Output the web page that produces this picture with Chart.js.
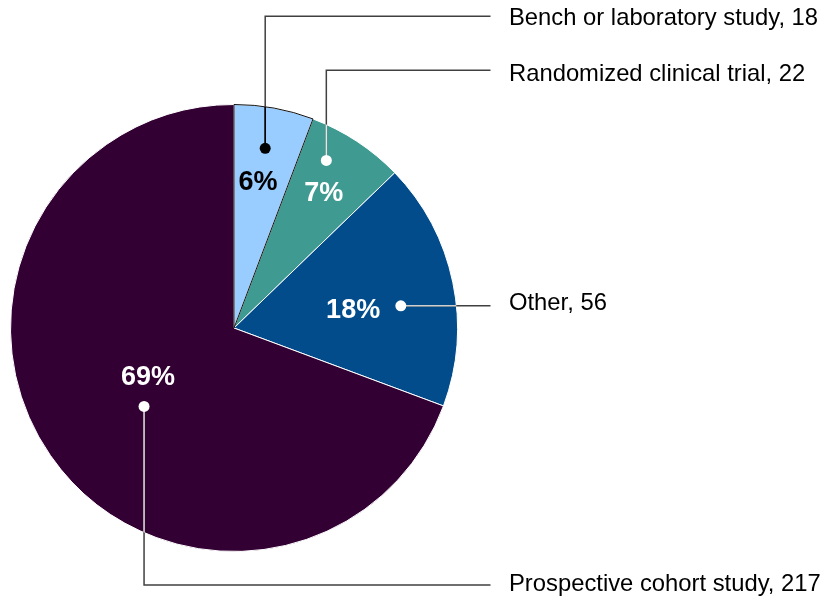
<!DOCTYPE html>
<html>
<head>
<meta charset="utf-8">
<script src="https://cdn.jsdelivr.net/npm/chart.js@4"></script>
<style>
  html, body { margin: 0; padding: 0; background: #fff; }
  #wrap { width: 830px; height: 597px; }
</style>
</head>
<body>
<div id="wrap"><canvas id="studyPie" width="830" height="597"></canvas></div>
<script>
// data
const categories = ['Bench or laboratory study', 'Randomized clinical trial', 'Other', 'Prospective cohort study'];
const counts = [18, 22, 56, 217];
const percentLabels = ['6%', '7%', '18%', '69%'];
const sliceColors = ['#99ccff', '#3f9b91', '#024c8c', '#330033'];

// label placement, relative to each slice (angle shift in degrees, fraction of radius)
const dotSpots = [[-0.5, 0.816], [-4.5, 0.856], [4.2, 0.753], [-6.3, 0.534]];
const pctSpots = [[-1.1, 0.67], [0, 0.73], [2.6, 0.54], [5.8, 0.44]];
const pctColors = ['#000', '#fff', '#fff', '#fff'];
const innerLine = ['#000', '#e6e6e6', '#cfcfcf', '#dcdcdc'];
const rowY = [16.3, 70.3, null, 585];   // null = straight out from the dot
const textShift = [0.5, 2.5, -4.5, -3];
const lineEndX = 490.5, textX = 509;

const FONT = '"Liberation Sans", Arial, sans-serif';

const leaderLabels = {
  id: 'leaderLabels',
  afterDatasetsDraw(chart) {
    const ctx = chart.ctx;
    const meta = chart.getDatasetMeta(0);
    meta.data.forEach((arc, i) => {
      const p = arc.getProps(['x', 'y', 'startAngle', 'endAngle', 'outerRadius'], true);
      const mid = (p.startAngle + p.endAngle) / 2;
      const r = p.outerRadius;

      // dark edge on the small light slice
      if (i === 0) {
        ctx.save();
        ctx.beginPath();
        ctx.moveTo(p.x, p.y);
        ctx.arc(p.x, p.y, r, p.startAngle, p.endAngle);
        ctx.closePath();
        ctx.strokeStyle = '#111';
        ctx.lineWidth = 1;
        ctx.stroke();
        ctx.restore();
      }

      const da = mid + dotSpots[i][0] * Math.PI / 180;
      const dx = p.x + Math.cos(da) * r * dotSpots[i][1];
      const dy = p.y + Math.sin(da) * r * dotSpots[i][1];
      const ly = rowY[i] === null ? dy : rowY[i];

      const path = () => {
        ctx.beginPath();
        ctx.moveTo(dx, dy);
        ctx.lineTo(dx, ly);
        ctx.lineTo(lineEndX, ly);
      };
      ctx.save();
      ctx.lineWidth = 1.5;
      ctx.strokeStyle = '#404040';
      path(); ctx.stroke();
      // part of the leader inside the pie
      ctx.beginPath();
      ctx.arc(p.x, p.y, r, 0, Math.PI * 2);
      ctx.clip();
      ctx.strokeStyle = innerLine[i];
      path(); ctx.stroke();
      ctx.restore();

      ctx.beginPath();
      ctx.arc(dx, dy, 5.5, 0, Math.PI * 2);
      ctx.fillStyle = pctColors[i];
      ctx.fill();

      // category text
      ctx.font = '23.8px ' + FONT;
      ctx.fillStyle = '#000';
      ctx.textAlign = 'left';
      ctx.textBaseline = 'alphabetic';
      ctx.fillText(categories[i] + ', ' + counts[i], textX, ly + textShift[i] + 23.8 * 0.358);

      // percent text
      const pa = mid + pctSpots[i][0] * Math.PI / 180;
      const px = p.x + Math.cos(pa) * r * pctSpots[i][1];
      const py = p.y + Math.sin(pa) * r * pctSpots[i][1];
      ctx.font = 'bold 27px ' + FONT;
      ctx.fillStyle = pctColors[i];
      ctx.textAlign = 'center';
      ctx.fillText(percentLabels[i], px, py + 27 * 0.358);
    });
  }
};

const ctx = document.getElementById('studyPie').getContext('2d');
const studyPie = new Chart(ctx, {
  type: 'pie',
  data: {
    labels: categories,
    datasets: [{
      data: counts,
      backgroundColor: sliceColors,
      borderColor: '#ffffff',
      borderWidth: 1
    }]
  },
  options: {
    responsive: false,
    animation: false,
    layout: { padding: { left: 10, right: 372, top: 104, bottom: 45 } },
    plugins: {
      legend: { display: false },
      tooltip: { enabled: false }
    }
  },
  plugins: [leaderLabels]
});
</script>
</body>
</html>
